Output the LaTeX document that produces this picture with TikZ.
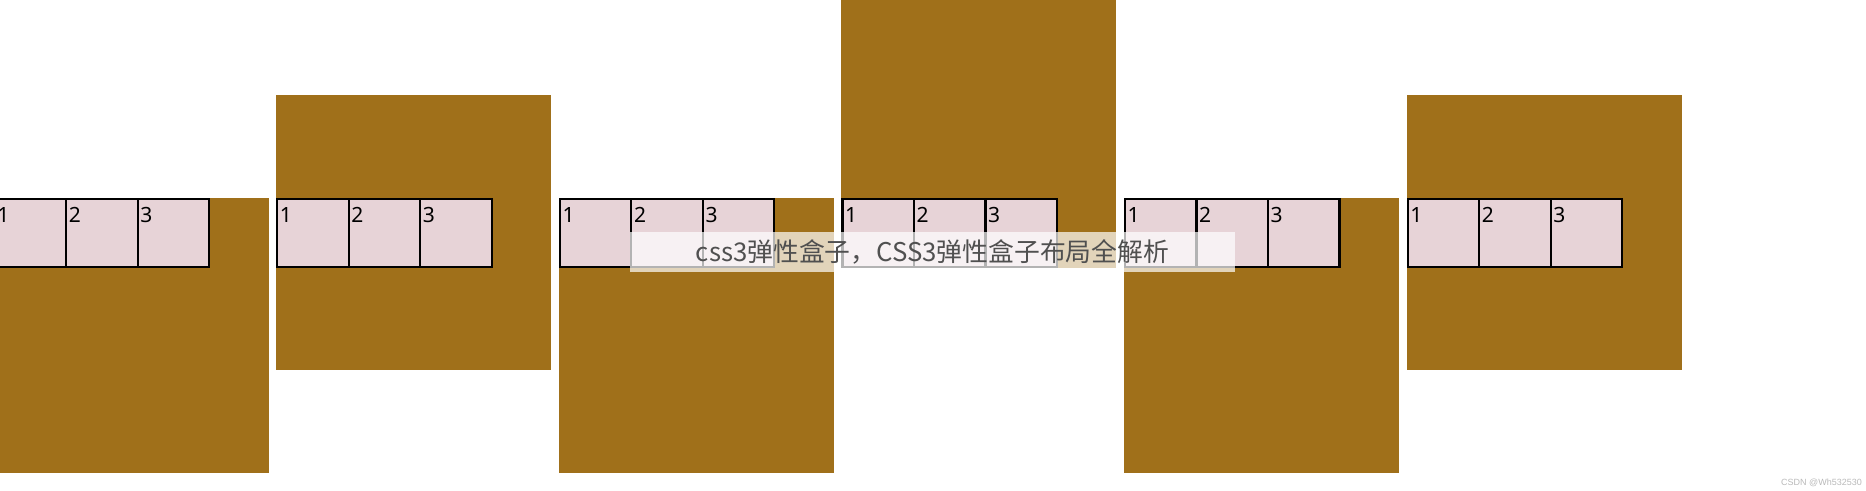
\documentclass[tikz,border=0pt]{standalone}
\usepackage{fontspec}
\newfontfamily\cjkfont{Noto Sans CJK SC}
\newfontfamily\numfont{Noto Sans}
\newfontfamily\markfont{Liberation Sans}
\usetikzlibrary{positioning}
\definecolor{boxbrown}{RGB}{160,112,26}
\definecolor{itempink}{RGB}{231,211,215}
\definecolor{captiongray}{RGB}{80,80,80}
\definecolor{creditgray}{RGB}{185,185,185}
\tikzset{flexbox/.style={fill=boxbrown,minimum width=275pt,minimum height=275pt,inner sep=0pt,outer sep=0pt,anchor=north west},
         item/.style={draw=black,line width=2.2pt,fill=itempink,minimum width=71.5pt,minimum height=68.2pt,inner sep=0pt,outer sep=0pt},
         num/.style={anchor=north west,inner xsep=2.5pt,inner ysep=0pt,font=\numfont\fontsize{21}{24}\selectfont},
         caption/.style={fill=white,fill opacity=0.7,text opacity=1,text=captiongray,minimum width=605pt,minimum height=40pt,inner sep=0pt,font=\cjkfont\fontsize{25.8}{30}\selectfont},
         credit/.style={anchor=east,inner sep=0pt,text=creditgray,font=\markfont\fontsize{9}{10}\selectfont}
}
\begin{document}
\begin{tikzpicture}[x=1pt,y=-1pt]

\clip (0,0) rectangle (1866,490);
\foreach \b/\by in {0/197.8,1/95.3,2/197.8,3/-7,4/197.8,5/95.3}{
  \pgfmathsetmacro\boxx{-6.5+282.6*\b}
  \node[flexbox] (box\b) at (\boxx,\by) {};
  \node[item,anchor=north west] (item\b1) at (\boxx+1.1,198.9) {};
  \node[item,right=0pt of item\b1] (item\b2) {};
  \node[item,right=0pt of item\b2] (item\b3) {};
  \foreach \k in {1,2,3}
    \node[num] (num\b\k) at ([yshift=-8.5pt]item\b\k.north west) {\k};
}
\node[caption] (title) at (932.5,252) {css3弹性盒子，CSS3弹性盒子布局全解析};
\node[credit] (credit) at (1862,483) {CSDN @Wh532530};

\end{tikzpicture}
\end{document}
